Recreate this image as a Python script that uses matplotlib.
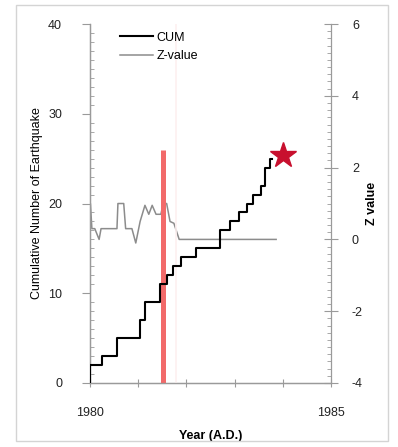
import numpy as np
import matplotlib.pyplot as plt
from matplotlib.patches import Rectangle
from matplotlib.ticker import MultipleLocator

plt.rcParams['font.family'] = ['Liberation Sans', 'DejaVu Sans']
plt.rcParams['axes.unicode_minus'] = False

# cumulative number of earthquakes (step after each year value)
cum_year = [1980.0, 1980.0, 1980.26, 1980.56, 1981.04, 1981.14, 1981.45, 1981.60,
            1981.72, 1981.89, 1982.20, 1982.69, 1982.90, 1983.09, 1983.26, 1983.39,
            1983.55, 1983.63, 1983.73, 1983.78]
cum_count = [0, 2, 3, 5, 7, 9, 11, 12, 13, 14, 15, 17, 18, 19, 20, 21, 22, 24, 25, 25]

# Z-value series
z_year = [1980.0, 1980.01, 1980.04, 1980.10, 1980.19, 1980.23, 1980.56, 1980.58,
          1980.70, 1980.74, 1980.87, 1980.95, 1981.04, 1981.14, 1981.22, 1981.29,
          1981.37, 1981.47, 1981.52, 1981.59, 1981.66, 1981.74, 1981.85, 1983.86]
z_val = [-0.2, 1.0, 0.3, 0.3, 0.0, 0.3, 0.3, 1.0,
         1.0, 0.3, 0.3, -0.1, 0.5, 0.95, 0.7, 0.95,
         0.7, 0.7, 1.0, 1.0, 0.5, 0.45, 0.0, 0.0]

main_year = 1981.51
main_height = 26
faint_year = 1981.79
star_year = 1984.0
star_count = 25.4

fig = plt.figure(figsize=(3.98, 4.47), dpi=100)
fig.patches.append(Rectangle((0.040, 0.013), 0.935, 0.976, transform=fig.transFigure,
                             fill=False, edgecolor='#d4d4d4', linewidth=1.0))

ax = fig.add_axes([0.226, 0.1432, 0.606, 0.803])
ax2 = ax.twinx()

ax.axvline(faint_year, color='#fdf0f0', linewidth=1.2, zorder=1)
ax.plot([main_year, main_year], [0, main_height], color='#f26a6a', linewidth=3.6,
        solid_capstyle='butt', zorder=2)
ln1, = ax.plot(cum_year, cum_count, drawstyle='steps-post', color='black', linewidth=1.5,
               zorder=4, label='CUM')
ax.plot([star_year], [star_count], marker='*', markersize=19, color='#c8102e',
        markeredgecolor='#c8102e', linestyle='none', zorder=5, clip_on=False)
ln2, = ax2.plot(z_year, z_val, color='#8c8c8c', linewidth=1.1, label='Z-value')

ax.set_zorder(ax2.get_zorder() + 1)
ax.patch.set_visible(False)

ax.set_xlim(1980, 1985)
ax.set_ylim(0, 40)
ax2.set_ylim(-4, 6)

ax.set_xticks([1980, 1981, 1982, 1983, 1984, 1985])
ax.set_xticklabels(['1980', '', '', '', '', '1985'])
ax.set_yticks([0, 10, 20, 30, 40])
ax.yaxis.set_minor_locator(MultipleLocator(1))
ax2.set_yticks([-4, -2, 0, 2, 4, 6])
ax2.yaxis.set_minor_locator(MultipleLocator(0.2))

spine_c = '#9a9a9a'
for a in (ax, ax2):
    for s in a.spines.values():
        s.set_color(spine_c)
        s.set_linewidth(0.9)
    a.spines['top'].set_visible(False)
ax.spines['right'].set_visible(False)

ax.tick_params(axis='x', direction='inout', length=6, width=0.8, color=spine_c,
               labelsize=9, labelcolor='#222222', pad=14)
ax.tick_params(axis='y', which='major', direction='out', length=6, width=0.8, color=spine_c,
               labelsize=9, labelcolor='#222222', pad=14)
ax.tick_params(axis='y', which='minor', direction='in', length=3, width=0.6, color=spine_c)
ax2.tick_params(axis='y', which='major', direction='inout', length=10, width=0.8, color=spine_c,
                labelsize=9, labelcolor='#222222', pad=10)
ax2.tick_params(axis='y', which='minor', direction='in', length=3, width=0.6, color=spine_c)

ax.set_xlabel('Year (A.D.)', fontsize=9, fontweight='bold', labelpad=8)
ax.set_ylabel('Cumulative Number of Earthquake', fontsize=9, labelpad=4)
ax2.set_ylabel('Z value', fontsize=9, fontweight='bold', labelpad=2)

ax.legend([ln1, ln2], ['CUM', 'Z-value'], loc='upper left', frameon=False, fontsize=9,
          handlelength=2.6, handletextpad=0.3, labelspacing=0.5,
          bbox_to_anchor=(0.08, 1.01))

fig.savefig('out.png', dpi=100)
